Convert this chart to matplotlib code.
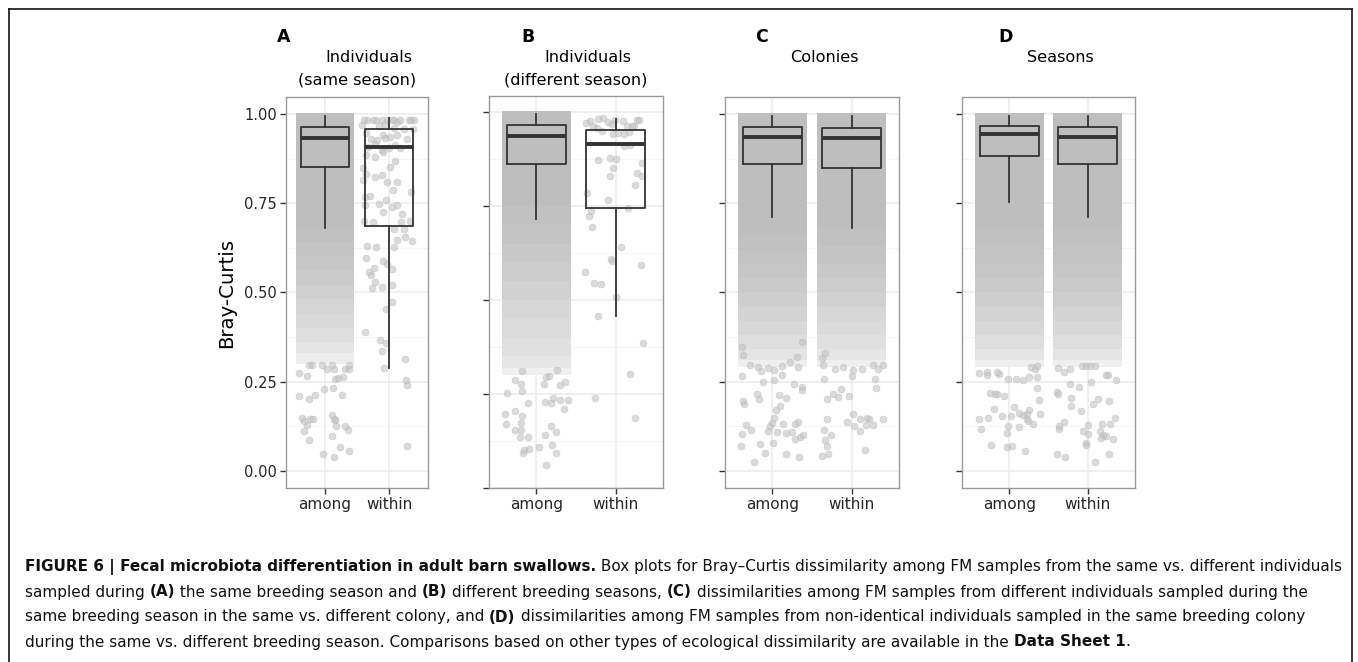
import numpy as np
import matplotlib
matplotlib.use("Agg")
from matplotlib import pyplot as plt
from matplotlib.lines import Line2D

plt.rcParams['font.family'] = ['DejaVu Sans']

W, H = 1358, 662

letters = ["A", "B", "C", "D"]
titles = [("Individuals", "(same season)"),
          ("Individuals", "(different season)"),
          ("Colonies", ""),
          ("Seasons", "")]
groups = ["among", "within"]
yticks = [0.00, 0.25, 0.50, 0.75, 1.00]

# box stats per group: lower whisker, Q1, median, Q3, upper whisker
box_a = [[0.681, 0.852, 0.933, 0.964, 0.994], [0.289, 0.686, 0.908, 0.958, 0.989]]
box_b = [[0.715, 0.863, 0.935, 0.965, 0.994], [0.458, 0.745, 0.916, 0.953, 0.981]]
box_c = [[0.710, 0.861, 0.936, 0.964, 0.994], [0.681, 0.850, 0.933, 0.962, 0.994]]
box_d = [[0.753, 0.881, 0.943, 0.967, 0.994], [0.710, 0.861, 0.936, 0.964, 0.994]]

# thick part of the point clouds: band edges and how much of each band is covered
a_among_edges = [0.30, 0.33, 0.36, 0.40, 0.44, 0.48, 0.52, 0.56, 0.60, 0.64, 0.68, 1.003]
a_among_cover = [0.28, 0.40, 0.50, 0.58, 0.65, 0.72, 0.80, 0.86, 0.91, 0.96, 1.0]
b_among_edges = [0.30, 0.32, 0.35, 0.40, 0.45, 0.50, 0.55, 0.60, 0.65, 0.70, 0.75, 1.003]
b_among_cover = [0.25, 0.38, 0.48, 0.55, 0.62, 0.70, 0.78, 0.85, 0.90, 0.95, 1.0]
c_among_edges = [0.29, 0.31, 0.34, 0.38, 0.42, 0.46, 0.50, 0.54, 0.58, 0.62, 0.66, 1.003]
c_among_cover = [0.25, 0.40, 0.50, 0.60, 0.68, 0.75, 0.82, 0.88, 0.92, 0.96, 1.0]
c_within_edges = [0.29, 0.31, 0.34, 0.38, 0.42, 0.46, 0.50, 0.54, 0.58, 0.63, 0.68, 1.003]
c_within_cover = [0.25, 0.38, 0.48, 0.55, 0.62, 0.70, 0.78, 0.85, 0.90, 0.95, 1.0]
d_among_edges = [0.29, 0.31, 0.34, 0.38, 0.42, 0.46, 0.50, 0.54, 0.58, 0.63, 0.68, 1.003]
d_among_cover = [0.25, 0.40, 0.50, 0.60, 0.68, 0.75, 0.82, 0.88, 0.92, 0.96, 1.0]
d_within_edges = [0.29, 0.31, 0.34, 0.38, 0.42, 0.46, 0.50, 0.54, 0.58, 0.63, 0.68, 1.003]
d_within_cover = [0.25, 0.40, 0.50, 0.60, 0.68, 0.75, 0.82, 0.88, 0.92, 0.96, 1.0]

# single points: (Bray-Curtis value, jitter offset)
a_among_pts = [
    (0.275, -0.403), (0.266, -0.279), (0.295, -0.243), (0.295, -0.201), (0.297, -0.041),
    (0.286, 0.031), (0.297, 0.108), (0.286, 0.150), (0.258, 0.160), (0.260, 0.212),
    (0.263, 0.279), (0.286, 0.320), (0.286, 0.372), (0.297, 0.372), (0.209, -0.393),
    (0.200, -0.243), (0.211, -0.150), (0.228, -0.005), (0.231, 0.124), (0.213, 0.263),
    (0.149, -0.356), (0.140, -0.315), (0.128, -0.279), (0.144, -0.227), (0.144, -0.186),
    (0.111, -0.320), (0.085, -0.243), (0.157, 0.114), (0.145, 0.139), (0.143, 0.160),
    (0.126, 0.181), (0.125, 0.315), (0.114, 0.362), (0.098, 0.114), (0.048, -0.031),
    (0.039, 0.145), (0.066, 0.243), (0.055, 0.382)]
a_within_pts = [
    (0.983, -0.397), (0.983, -0.341), (0.983, -0.258), (0.983, -0.206), (0.983, -0.114),
    (0.983, -0.036), (0.983, 0.036), (0.983, 0.078), (0.983, 0.160), (0.983, 0.299),
    (0.983, 0.336), (0.983, 0.377), (0.968, -0.418), (0.966, -0.155), (0.971, -0.062),
    (0.961, 0.067), (0.978, 0.124), (0.957, 0.232), (0.958, 0.361), (0.946, -0.361),
    (0.931, -0.284), (0.927, -0.196), (0.942, -0.093), (0.934, -0.062), (0.936, 0.010),
    (0.940, 0.124), (0.930, 0.268), (0.908, -0.330), (0.915, -0.217), (0.899, -0.114),
    (0.905, -0.005), (0.913, 0.093), (0.905, 0.160), (0.880, -0.217), (0.893, -0.093),
    (0.885, -0.361), (0.852, 0.005), (0.869, 0.093), (0.831, -0.361), (0.824, -0.217),
    (0.829, -0.108), (0.810, 0.124), (0.815, -0.413), (0.848, -0.408), (0.768, -0.377),
    (0.770, -0.305), (0.788, 0.052), (0.781, 0.330), (0.809, -0.036), (0.744, -0.377),
    (0.749, -0.160), (0.759, -0.046), (0.738, 0.036), (0.720, 0.191), (0.724, -0.093),
    (0.746, 0.114), (0.699, -0.397), (0.696, -0.258), (0.679, 0.067), (0.698, 0.181),
    (0.677, 0.232), (0.700, 0.315), (0.643, 0.346), (0.648, 0.114), (0.656, 0.243),
    (0.628, 0.067), (0.629, -0.341), (0.628, -0.206), (0.595, -0.361), (0.568, -0.237),
    (0.550, -0.289), (0.516, -0.108), (0.521, 0.036), (0.580, -0.036), (0.565, 0.036),
    (0.588, -0.093), (0.556, -0.320), (0.528, -0.227), (0.512, -0.269), (0.474, 0.036),
    (0.454, -0.052), (0.388, -0.372), (0.367, -0.145), (0.359, -0.057), (0.335, -0.108),
    (0.289, -0.077), (0.313, 0.248), (0.254, 0.258), (0.239, 0.274), (0.069, 0.274)]
b_among_pts = [
    (0.254, -0.375), (0.288, -0.265), (0.276, -0.198), (0.259, -0.185), (0.310, -0.177),
    (0.225, -0.105), (0.276, 0.093), (0.230, 0.114), (0.226, 0.181), (0.239, 0.215),
    (0.235, 0.299), (0.235, 0.396), (0.209, 0.346), (0.281, 0.367), (0.275, 0.299),
    (0.313, 0.261), (0.299, 0.160), (0.294, 0.118), (0.197, -0.396), (0.171, -0.383),
    (0.205, -0.265), (0.173, -0.198), (0.191, -0.177), (0.155, -0.274), (0.153, -0.190),
    (0.136, -0.211), (0.136, -0.101), (0.102, -0.160), (0.093, -0.173), (0.105, -0.097),
    (0.110, 0.038), (0.142, 0.105), (0.165, 0.181), (0.150, 0.249), (0.115, 0.194),
    (0.092, 0.244), (0.061, 0.122)]
b_within_pts = [
    (0.971, -0.374), (0.977, -0.324), (0.964, -0.282), (0.981, -0.219), (0.983, -0.164),
    (0.973, -0.092), (0.980, -0.007), (0.976, 0.090), (0.964, 0.140), (0.962, 0.203),
    (0.980, 0.266), (0.978, 0.300), (0.958, -0.240), (0.949, -0.176), (0.941, -0.037),
    (0.945, 0.035), (0.941, 0.106), (0.947, 0.169), (0.964, 0.232), (0.967, -0.050),
    (0.873, -0.219), (0.879, -0.071), (0.875, 0.005), (0.910, 0.110), (0.912, 0.182),
    (0.838, 0.266), (0.865, 0.338), (0.831, 0.330), (0.851, -0.037), (0.831, -0.071),
    (0.807, 0.245), (0.785, -0.357), (0.767, -0.100), (0.745, 0.161), (0.736, -0.311),
    (0.724, -0.336), (0.695, -0.294), (0.642, 0.072), (0.608, -0.055), (0.605, -0.042),
    (0.593, 0.316), (0.574, -0.388), (0.545, -0.278), (0.542, -0.185), (0.509, 0.008),
    (0.458, -0.223), (0.386, 0.341), (0.304, 0.181), (0.240, -0.261), (0.186, 0.244)]
c_among_pts = [
    (0.265, -0.379), (0.249, -0.114), (0.255, 0.025), (0.267, 0.126), (0.243, 0.274),
    (0.236, 0.371), (0.225, 0.371), (0.196, -0.375), (0.187, -0.354), (0.216, -0.194),
    (0.201, -0.164), (0.213, 0.084), (0.205, 0.177), (0.181, 0.097), (0.169, 0.046),
    (0.149, 0.025), (0.135, -0.004), (0.124, -0.034), (0.111, -0.059), (0.128, -0.329),
    (0.114, -0.270), (0.102, -0.388), (0.070, -0.396), (0.076, -0.160), (0.079, 0.008),
    (0.109, 0.055), (0.132, 0.131), (0.106, 0.169), (0.108, 0.249), (0.131, 0.282),
    (0.136, 0.329), (0.090, 0.291), (0.094, 0.346), (0.101, 0.388), (0.049, -0.093),
    (0.023, -0.232), (0.047, 0.177), (0.038, 0.337), (0.348, -0.388), (0.325, -0.367),
    (0.297, -0.282), (0.292, -0.177), (0.280, -0.143), (0.287, -0.051), (0.283, 0.025),
    (0.294, 0.118), (0.306, 0.223), (0.292, 0.320), (0.362, 0.379), (0.320, 0.308)]
c_within_pts = [
    (0.257, -0.350), (0.200, -0.308), (0.214, -0.232), (0.208, -0.177), (0.228, -0.139),
    (0.210, -0.038), (0.145, -0.308), (0.137, -0.063), (0.158, 0.021), (0.124, 0.034),
    (0.145, 0.105), (0.112, 0.101), (0.147, 0.190), (0.146, 0.215), (0.129, 0.270),
    (0.145, 0.396), (0.127, 0.177), (0.115, -0.350), (0.099, -0.261), (0.085, -0.337),
    (0.068, -0.308), (0.048, -0.295), (0.040, -0.379), (0.057, 0.164), (0.231, 0.312),
    (0.257, 0.299), (0.297, -0.358), (0.285, -0.211), (0.292, -0.105), (0.266, 0.000),
    (0.281, 0.021), (0.285, 0.126), (0.297, 0.274), (0.295, 0.400), (0.285, 0.337),
    (0.329, -0.337), (0.315, -0.379)]
d_among_pts = [
    (0.257, -0.021), (0.257, 0.085), (0.254, 0.170), (0.264, 0.246), (0.263, 0.360),
    (0.231, 0.352), (0.219, -0.242), (0.215, -0.178), (0.215, -0.153), (0.209, -0.064),
    (0.197, 0.373), (0.178, 0.064), (0.174, -0.187), (0.171, 0.254), (0.159, 0.225),
    (0.157, 0.170), (0.163, 0.127), (0.152, 0.021), (0.152, -0.085), (0.149, -0.267),
    (0.145, -0.382), (0.118, -0.360), (0.124, -0.021), (0.122, 0.119), (0.145, 0.229),
    (0.138, 0.242), (0.130, 0.305), (0.158, 0.394), (0.105, -0.034), (0.073, -0.229),
    (0.066, -0.025), (0.068, 0.038), (0.056, 0.199), (0.273, -0.390), (0.267, -0.288),
    (0.278, -0.276), (0.278, -0.157), (0.270, -0.127), (0.290, 0.276), (0.285, 0.326),
    (0.294, 0.360)]
d_within_pts = [
    (0.222, -0.386), (0.215, -0.373), (0.125, -0.365), (0.117, -0.365), (0.136, -0.305),
    (0.243, -0.229), (0.204, -0.212), (0.181, -0.212), (0.234, -0.106), (0.168, -0.081),
    (0.112, -0.059), (0.104, 0.008), (0.077, -0.025), (0.073, -0.021), (0.129, 0.004),
    (0.248, 0.042), (0.187, 0.064), (0.201, 0.131), (0.131, 0.178), (0.110, 0.157),
    (0.091, 0.170), (0.100, 0.187), (0.097, 0.233), (0.195, 0.275), (0.132, 0.288),
    (0.090, 0.326), (0.148, 0.348), (0.047, 0.267), (0.023, 0.097), (0.047, -0.394),
    (0.038, -0.284), (0.268, 0.254), (0.255, 0.360), (0.289, -0.373), (0.278, -0.309),
    (0.286, -0.225), (0.294, -0.076), (0.294, -0.025), (0.294, 0.030), (0.294, 0.093),
    (0.267, 0.233)]

boxes = [box_a, box_b, box_c, box_d]
clouds = [[(a_among_edges, a_among_cover), None],
          [(b_among_edges, b_among_cover), None],
          [(c_among_edges, c_among_cover), (c_within_edges, c_within_cover)],
          [(d_among_edges, d_among_cover), (d_within_edges, d_within_cover)]]
points = [[a_among_pts, a_within_pts], [b_among_pts, b_within_pts],
          [c_among_pts, c_within_pts], [d_among_pts, d_within_pts]]

# layout in pixels (left, top, right, bottom)
panel_px = [(286, 97, 428, 488), (489, 96, 663, 488), (725, 97, 899, 488), (962, 97, 1135, 488)]
ylims = [(-0.0485, 1.0477), (0.0147, 1.0427), (-0.0485, 1.0477), (-0.0485, 1.0477)]
letter_x = [284, 528, 762, 1006]

pt_gray = np.array([0.745, 0.745, 0.745])

fig = plt.figure(figsize=(W / 100, H / 100), dpi=100)

for i in range(4):
    l, t, r, b = panel_px[i]
    ax = fig.add_axes([l / W, 1 - b / H, (r - l) / W, (b - t) / H])
    ax.set_xlim(0.4, 2.6)
    ax.set_ylim(*ylims[i])
    ax.set_axisbelow(True)
    unit_px = (r - l) / 2.2
    pad = 6.0 / unit_px

    for j in range(2):
        c = clouds[i][j]
        if c is not None:
            edges, cover = c
            for k in range(len(cover)):
                col = 1 - cover[k] * (1 - pt_gray)
                ax.bar(j + 1, edges[k + 1] - edges[k], bottom=edges[k], width=0.8 + pad,
                       color=col, linewidth=0, zorder=1)
        pts = np.array(points[i][j])
        ax.scatter(j + 1 + pts[:, 1], pts[:, 0], s=24, color=pt_gray, alpha=0.55,
                   linewidths=0.6, zorder=2)

    stats = []
    for j in range(2):
        lo, q1, med, q3, hi = boxes[i][j]
        stats.append(dict(whislo=lo, q1=q1, med=med, q3=q3, whishi=hi, fliers=[]))
    ax.bxp(stats, positions=[1, 2], widths=0.75, showfliers=False, showcaps=False,
           boxprops=dict(color='#333333', linewidth=1.3),
           whiskerprops=dict(color='#333333', linewidth=1.3),
           medianprops=dict(color='#333333', linewidth=2.8),
           zorder=3)

    ax.set_xticks([1, 2])
    ax.set_xticklabels(groups, fontsize=11)
    ax.set_yticks(yticks)
    ax.set_yticks([0.125, 0.375, 0.625, 0.875], minor=True)
    ax.xaxis.set_minor_locator(matplotlib.ticker.NullLocator())
    if i == 0:
        ax.set_yticklabels(["%.2f" % v for v in yticks], fontsize=10.5)
    else:
        ax.set_yticklabels([])
    ax.tick_params(axis='both', which='major', length=4.5, width=1.0, color='#333333',
                   labelcolor='#262626', pad=2)
    ax.tick_params(axis='y', which='minor', length=0)
    ax.grid(True, which='major', color='#ebebeb', linewidth=1.1)
    ax.grid(True, which='minor', axis='y', color='#f5f5f5', linewidth=0.7)
    for s in ax.spines.values():
        s.set_color('#9a9a9a')
        s.set_linewidth(1.0)

    cx = (l + r) / 2
    fig.text((cx + 12) / W, 1 - 57 / H, titles[i][0], ha='center', va='center', fontsize=11.6)
    if titles[i][1]:
        fig.text(cx / W, 1 - 80 / H, titles[i][1], ha='center', va='center', fontsize=11.6)
    fig.text(letter_x[i] / W, 1 - 36.5 / H, letters[i], ha='center', va='center',
             fontsize=12.5, fontweight='bold')

fig.text(227 / W, 1 - 293 / H, "Bray-Curtis", rotation=90, ha='center', va='center',
         fontsize=14.2)

# caption
caption = [
    [("FIGURE 6 | Fecal microbiota differentiation in adult barn swallows.", True),
     (" Box plots for Bray\u2013Curtis dissimilarity among FM samples from the same vs. different individuals", False)],
    [("sampled during ", False), ("(A)", True), (" the same breeding season and ", False), ("(B)", True),
     (" different breeding seasons, ", False), ("(C)", True),
     (" dissimilarities among FM samples from different individuals sampled during the", False)],
    [("same breeding season in the same vs. different colony, and ", False), ("(D)", True),
     (" dissimilarities among FM samples from non-identical individuals sampled in the same breeding colony", False)],
    [("during the same vs. different breeding season. Comparisons based on other types of ecological dissimilarity are available in the ", False),
     ("Data Sheet 1", True), (".", False)],
]
cap_y = [567, 592, 617, 642]

renderer = fig.canvas.get_renderer()


def seg_width(s, bold, size):
    t1 = fig.text(0, 0, "|" + s + "|", fontsize=size, fontweight='bold' if bold else 'normal')
    t2 = fig.text(0, 0, "||", fontsize=size, fontweight='bold' if bold else 'normal')
    w = t1.get_window_extent(renderer).width - t2.get_window_extent(renderer).width
    t1.remove()
    t2.remove()
    return w


base = 10.0
w2 = sum(seg_width(s, bd, base) for s, bd in caption[1])
cap_size = base * (1301 - 25) / w2

for line, y in zip(caption, cap_y):
    x = 25.0
    for s, bd in line:
        fig.text(x / W, 1 - y / H, s, ha='left', va='center', fontsize=cap_size,
                 fontweight='bold' if bd else 'normal', color='#111111')
        x += seg_width(s, bd, cap_size)

# outer frame (open at the bottom edge of the crop)
fl = 8.5 / W
fr = 1351.5 / W
ft = 1 - 8.5 / H
fig.add_artist(Line2D([fl, fl], [0, ft], color='black', linewidth=1.1))
fig.add_artist(Line2D([fl, fr], [ft, ft], color='black', linewidth=1.1))
fig.add_artist(Line2D([fr, fr], [0, ft], color='black', linewidth=1.1))

fig.savefig("out.png", dpi=100)
